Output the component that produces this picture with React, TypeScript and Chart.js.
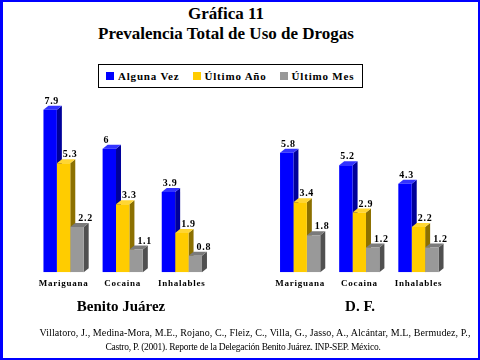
import React, { useEffect, useRef } from "react";
import { Chart, registerables } from "chart.js";

Chart.register(...registerables);

const categories = ["Mariguana", "Cocaina", "Inhalables"];
const seriesNames = ["Alguna Vez", "Último Año", "Último Mes"];
const bjAlgunaVez = [7.9, 6, 3.9];
const bjUltimoAno = [5.3, 3.3, 1.9];
const bjUltimoMes = [2.2, 1.1, 0.8];
const dfAlgunaVez = [5.8, 5.2, 4.3];
const dfUltimoAno = [3.4, 2.9, 2.2];
const dfUltimoMes = [1.8, 1.2, 1.2];
const groupNames = ["Benito Juárez", "D. F."];
const titleLines = ["Gráfica 11", "Prevalencia Total de Uso de Drogas"];
const footnoteLines = [
  "Villatoro, J., Medina-Mora, M.E., Rojano, C., Fleiz, C., Villa, G., Jasso, A., Alcántar, M.L, Bermudez, P.,",
  "Castro, P. (2001). Reporte de la Delegación Benito Juárez. INP-SEP. México.",
];

const frontColors = ["#0000FF", "#FFCC00", "#999999"];
const topColors = ["#3333FF", "#FFD633", "#7A7A7A"];
const sideColors = ["#00009A", "#8C7000", "#505050"];
const labelDx = [1, 6, 8];

const SERIF = "'Liberation Serif', 'Times New Roman', serif";

const labels = [...categories, "", ...categories];
const join = (a: number[], b: number[]) => [...a, null, ...b];
const seriesData = [
  join(bjAlgunaVez, dfAlgunaVez),
  join(bjUltimoAno, dfUltimoAno),
  join(bjUltimoMes, dfUltimoMes),
];

const DX = 5;
const DY = 4;

const bar3dPlugin = {
  id: "bar3d",
  beforeDraw(chart: any) {
    chart.ctx.letterSpacing = "0.75px";
  },
  beforeDatasetsDraw(chart: any) {
    const ctx = chart.ctx;
    ctx.save();
    chart.data.datasets.forEach((ds: any, i: number) => {
      const meta = chart.getDatasetMeta(i);
      meta.data.forEach((el: any, j: number) => {
        const v = ds.data[j];
        if (v === null || v === undefined) return;
        const { x, y, base, width } = el.getProps(["x", "y", "base", "width"], true);
        const l = x - width / 2;
        const r = x + width / 2;
        ctx.fillStyle = sideColors[i];
        ctx.beginPath();
        ctx.moveTo(r, y);
        ctx.lineTo(r + DX, y - DY);
        ctx.lineTo(r + DX, base - DY);
        ctx.lineTo(r, base);
        ctx.closePath();
        ctx.fill();
        ctx.fillStyle = topColors[i];
        ctx.beginPath();
        ctx.moveTo(l, y);
        ctx.lineTo(l + DX, y - DY);
        ctx.lineTo(r + DX, y - DY);
        ctx.lineTo(r, y);
        ctx.closePath();
        ctx.fill();
      });
    });
    ctx.restore();
  },
  afterDatasetsDraw(chart: any) {
    const ctx = chart.ctx;
    ctx.save();
    ctx.font = `bold 10px ${SERIF}`;
    ctx.letterSpacing = "0.7px";
    ctx.fillStyle = "#000000";
    ctx.textAlign = "left";
    ctx.textBaseline = "alphabetic";
    chart.data.datasets.forEach((ds: any, i: number) => {
      const meta = chart.getDatasetMeta(i);
      meta.data.forEach((el: any, j: number) => {
        const v = ds.data[j];
        if (v === null || v === undefined) return;
        const { x, y, width } = el.getProps(["x", "y", "width"], true);
        ctx.fillText(String(v), x - width / 2 + labelDx[i], y - 6);
      });
    });
    ctx.restore();
  },
};

function BarChart() {
  const ref = useRef<HTMLCanvasElement | null>(null);
  useEffect(() => {
    if (!ref.current) return;
    const chart = new Chart(ref.current, {
      type: "bar",
      data: {
        labels,
        datasets: seriesData.map((d, i) => ({
          label: seriesNames[i],
          data: d,
          backgroundColor: frontColors[i],
          borderWidth: 0,
          categoryPercentage: 0.68,
          barPercentage: 1.0,
        })),
      },
      options: {
        responsive: false,
        animation: false,
        layout: { padding: { left: 34, right: 32, top: 87, bottom: 65 } },
        plugins: {
          legend: { display: false },
          title: { display: false },
          tooltip: { enabled: false },
        },
        scales: {
          x: {
            grid: { display: false, drawTicks: false },
            border: { display: false },
            ticks: {
              color: "#000000",
              font: { family: SERIF, size: 9, weight: "bold" },
              padding: 6,
              autoSkip: false,
              maxRotation: 0,
              minRotation: 0,
            },
          },
          y: { display: false, min: 0, max: 9 },
        },
      },
      plugins: [bar3dPlugin],
    } as any);
    return () => chart.destroy();
  }, []);
  return (
    <canvas
      ref={ref}
      width={480}
      height={360}
      style={{ position: "absolute", left: 0, top: 0, width: 480, height: 360 }}
    />
  );
}

export default function App() {
  return (
    <div
      style={{
        position: "fixed",
        left: 0,
        top: 0,
        width: 480,
        height: 360,
        background: "#ffffff",
        overflow: "hidden",
        fontFamily: SERIF,
        color: "#000000",
      }}
    >
      <div
        style={{
          position: "absolute",
          left: 0,
          top: 4,
          width: 452,
          textAlign: "center",
          fontWeight: "bold",
          fontSize: 17,
          lineHeight: "20px",
          whiteSpace: "nowrap",
        }}
      >
        {titleLines.map((t, i) => (
          <div key={i}>{t}</div>
        ))}
      </div>
      <div
        style={{
          position: "absolute",
          left: 98,
          top: 64,
          width: 265,
          height: 24,
          boxSizing: "border-box",
          border: "1px solid #000000",
          display: "flex",
          alignItems: "center",
          paddingLeft: 7,
          fontFamily: SERIF,
          fontWeight: "bold",
          fontSize: 11,
          letterSpacing: "0.8px",
          whiteSpace: "nowrap",
        }}
      >
        {seriesNames.map((n, i) => (
          <div key={i} style={{ display: "flex", alignItems: "center", marginRight: 13 }}>
            <span
              style={{
                display: "inline-block",
                width: 8,
                height: 8,
                background: frontColors[i],
                marginRight: 4,
              }}
            />
            <span>{n}</span>
          </div>
        ))}
      </div>
      <BarChart />
      {groupNames.map((g, i) => (
        <div
          key={i}
          style={{
            position: "absolute",
            left: i === 0 ? 0 : 240,
            top: 298,
            width: i === 0 ? 242 : 240,
            textAlign: "center",
            fontWeight: "bold",
            fontSize: 15,
            lineHeight: "17px",
            whiteSpace: "nowrap",
          }}
        >
          {g}
        </div>
      ))}
      <div
        style={{
          position: "absolute",
          left: 0,
          top: 326,
          width: 510,
          textAlign: "center",
          fontSize: 10,
          lineHeight: "14px",
          letterSpacing: "0.1px",
          whiteSpace: "nowrap",
        }}
      >
        {footnoteLines[0]}
      </div>
      <div
        style={{
          position: "absolute",
          left: 0,
          top: 340,
          width: 486,
          textAlign: "center",
          fontSize: 9.5,
          lineHeight: "14px",
          letterSpacing: "-0.25px",
          whiteSpace: "nowrap",
        }}
      >
        {footnoteLines[1]}
      </div>
      <div
        style={{
          position: "absolute",
          left: 0,
          top: 0,
          width: 480,
          height: 360,
          boxSizing: "border-box",
          borderLeft: "3px solid #0000FF",
          borderTop: "2px solid #0000FF",
          borderRight: "2px solid #0000FF",
          borderBottom: "2px solid #0000FF",
          pointerEvents: "none",
        }}
      />
    </div>
  );
}
